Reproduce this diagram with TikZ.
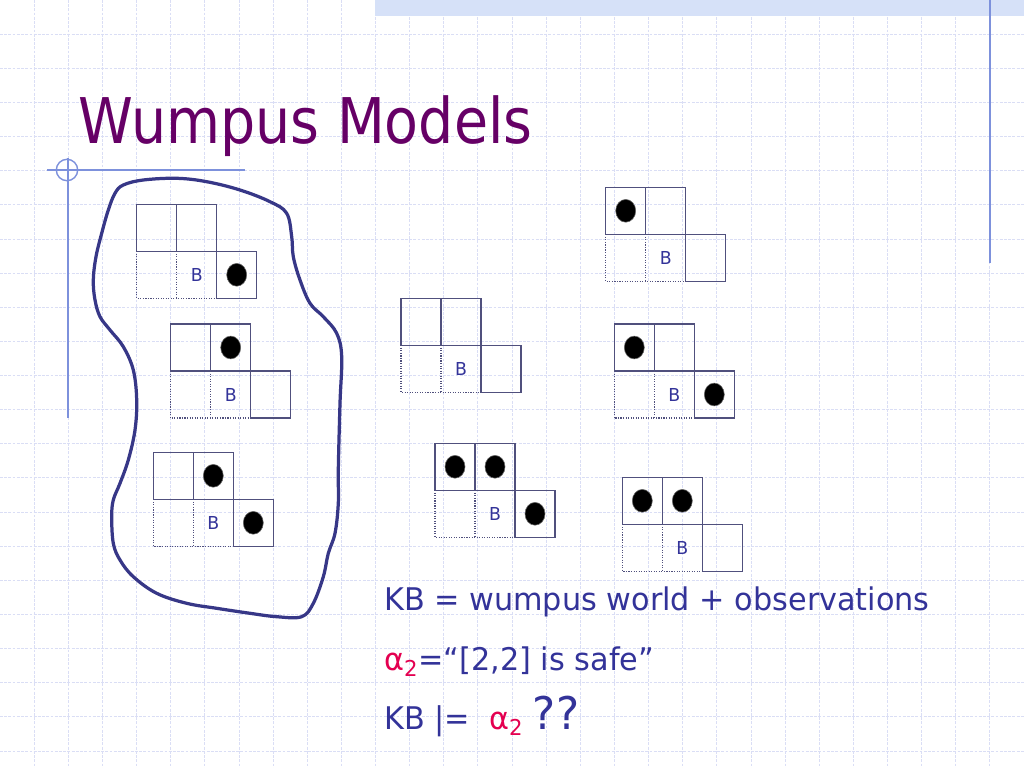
\documentclass[tikz,border=0pt]{standalone}
\usepackage{fontspec}
\setmainfont{DejaVu Sans}[FakeStretch=0.97]
\newfontfamily\titlefont{DejaVu Sans}[FakeStretch=0.88]
\usepackage{xcolor}
\usepackage{tikz}
\usetikzlibrary{shapes.geometric}
\definecolor{titlepurple}{RGB}{102, 0, 102}
\definecolor{textblue}{RGB}{51, 51, 153}
\definecolor{alphared}{RGB}{228, 0, 80}
\definecolor{gridlilac}{RGB}{218, 222, 245}
\definecolor{decoblue}{RGB}{125, 145, 220}
\definecolor{bandblue}{RGB}{214, 225, 248}
\definecolor{cellgray}{RGB}{80, 80, 125}
\definecolor{blobblue}{RGB}{55, 55, 135}

% one partial world: 2 cells on top, 3 below, breeze in [2,1]
\newcommand{\wumpusmodel}[4]{%
  \begin{scope}[shift={(#2,#3)}]
    \draw[cellline] (0,0) rectangle (80,47) (40,0) -- (40,47) (0,47) -- (80,47) (80,47) rectangle (120,94);
    \draw[cellline, densely dotted] (0,47) -- (0,94) -- (80,94) (40,47) -- (40,94);
    \node[blabel] (#1-b) at (60,70.5) {B};
    \foreach \c/\r in {#4}
      \node[pit] (#1-p\c\r) at (40*\c-20, 117.5-47*\r) {};
  \end{scope}}

\begin{document}
\begin{tikzpicture}[x=0.025cm, y=-0.025cm,
    bggrid/.style={gridlilac, line width=0.6pt, dash pattern=on 2pt off 1pt},
    deco/.style={decoblue, line width=1pt},
    cellline/.style={cellgray, line width=0.8pt},
    blabel/.style={text=textblue, inner sep=0pt, font=\fontsize{12.7}{14}\selectfont},
    pit/.style={ellipse, fill=black, draw=black!60, line width=0.4pt, inner sep=0pt, minimum width=0.5cm, minimum height=0.57cm},
    blob/.style={blobblue, line width=2.3pt},
    bodytext/.style={text=textblue, inner sep=0pt, anchor=base west, font=\fontsize{22.2}{26}\selectfont}]
    \fill[white] (0,0) rectangle (1024,768);
    \useasboundingbox (0,0) rectangle (1024,768);

    % Background paper grid
    \foreach \i in {1,...,29}
        \draw[bggrid] (\i*34.133,0) -- (\i*34.133,768);
    \foreach \j in {1,...,22}
        \draw[bggrid] (0,\j*34.133) -- (1024,\j*34.133);

    % Slide decoration
    \fill[bandblue] (375,0) rectangle (1024,15.7);
    \draw[deco] (990,0) -- (990,263);
    \draw[deco] (47,170) -- (245,170);
    \draw[deco] (68,158) -- (68,418);
    \draw[deco] (67,170) circle [radius=10.7];

    % Title
    \node[text=titlepurple, inner sep=0pt, anchor=base west, font=\titlefont\fontsize{44.8}{50}\selectfont] (title) at (78,143.3) {Wumpus Models};

    % Models consistent with KB
    \wumpusmodel{m1}{136.7}{204.3}{3/1}
    \wumpusmodel{m2}{170.7}{324}{2/2}
    \wumpusmodel{m3}{153.3}{452.3}{2/2, 3/1}

    % Remaining models
    \wumpusmodel{m4}{605.7}{187.3}{1/2}
    \wumpusmodel{m5}{401}{298.3}{}
    \wumpusmodel{m6}{614.3}{324}{1/2, 3/1}
    \wumpusmodel{m7}{435}{443.3}{1/2, 2/2, 3/1}
    \wumpusmodel{m8}{622.3}{477.3}{1/2, 2/2}

    % KB outline
    \draw[blob] plot[smooth cycle, tension=0.6] coordinates {
        (115,193.3) (123.3,185) (143.3,180) (176.7,178.3) (206.7,181.7) (240,190)
        (270,201.7) (286.7,213.3) (291.7,236.7) (293.3,256.7) (300,280) (310,303.3)
        (323.3,316.7) (336.7,333.3) (341.7,356.7) (340,403.3) (338.3,470) (338.3,503.3)
        (335,533.3) (328.3,553.3) (323.3,576.7) (313.3,603.3) (301.7,616.7) (276.7,616.7)
        (250,613.3) (216.7,608.3) (186.7,603.3) (156.7,593.3) (133.3,576.7) (120,560)
        (113.3,543.3) (111.7,516.7) (113.3,500) (120,483.3) (128.3,460) (135,430)
        (136.7,400) (133.3,370) (123.3,346.7) (110,330) (100,316.7) (95,300)
        (93.3,280) (96,256.7) (101.7,233.3) (108.3,210)};

    % Query text
    \node[bodytext] (kb) at (384,610.7) {KB = wumpus world + observations};
    \node[bodytext] (alpha) at (384,670) {\textcolor{alphared}{α\textsubscript{2}}=“[2,2] is safe”};
    \node[bodytext] (query) at (384,729.3) {KB |=\hspace{0.3em} \textcolor{alphared}{α\textsubscript{2}} {\fontsize{32}{36}\selectfont ??}};
\end{tikzpicture}
\end{document}
